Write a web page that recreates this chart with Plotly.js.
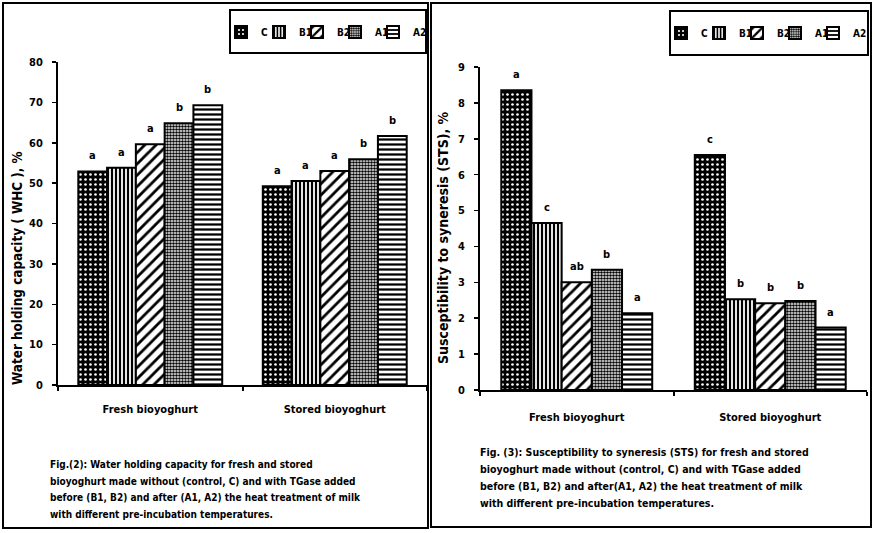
<!DOCTYPE html>
<html><head><meta charset="utf-8">
<script src="https://cdn.plot.ly/plotly-3.0.1.min.js"></script>
<style>html,body{margin:0;padding:0;background:#fff}</style>
</head><body><div id="chart" style="width:875px;height:533px"></div>
<script>
// ---------------- data ----------------
const groups = ["Fresh bioyoghurt", "Stored bioyoghurt"];
const seriesNames = ["C", "B1", "B2", "A1", "A2"];

// Fig. 2 : Water holding capacity (WHC), %
const whcC  = [52.9, 49.2];
const whcB1 = [53.8, 50.5];
const whcB2 = [59.6, 53.0];
const whcA1 = [64.8, 55.9];
const whcA2 = [69.3, 61.7];
const whcLettersC  = ["a", "a"];
const whcLettersB1 = ["a", "a"];
const whcLettersB2 = ["a", "a"];
const whcLettersA1 = ["b", "b"];
const whcLettersA2 = ["b", "b"];
const whcTicks = [0, 10, 20, 30, 40, 50, 60, 70, 80];

// Fig. 3 : Susceptibility to syneresis (STS), %
const stsC  = [8.35, 6.55];
const stsB1 = [4.65, 2.53];
const stsB2 = [3.00, 2.42];
const stsA1 = [3.35, 2.48];
const stsA2 = [2.14, 1.74];
const stsLettersC  = ["a", "c"];
const stsLettersB1 = ["c", "b"];
const stsLettersB2 = ["ab", "b"];
const stsLettersA1 = ["b", "b"];
const stsLettersA2 = ["a", "a"];
const stsTicks = [0, 1, 2, 3, 4, 5, 6, 7, 8, 9];

const whcTitle = "Water holding capacity ( WHC ), %";
const stsTitle = "Susceptibility to syneresis (STS), %";
const caption2 = [
  "Fig.(2): Water holding capacity for fresh and stored",
  "bioyoghurt made without (control, C) and with TGase added",
  "before (B1, B2) and after (A1, A2) the heat treatment of milk",
  "with different pre-incubation temperatures."
];
const caption3 = [
  "Fig. (3): Susceptibility to syneresis (STS) for fresh and stored",
  "bioyoghurt made without (control, C) and with TGase added",
  "before (B1, B2) and after(A1, A2) the heat treatment of milk",
  "with different pre-incubation temperatures."
];

// ---------------- layout helpers ----------------
const W = 875, H = 533;
const px = x => x / W;
const py = y => 1 - y / H;
const FONT = "'Liberation Sans Narrow', 'Arial Narrow', 'DejaVu Sans Condensed', sans-serif";
const bargap = 0.22;

const patterns = [
  {shape: ".", bgcolor: "#000", fgcolor: "#fff", size: 5, solidity: 0.22, fillmode: "replace"},
  {shape: "|", bgcolor: "#fff", fgcolor: "#000", size: 4, solidity: 0.55, fillmode: "replace"},
  {shape: "/", bgcolor: "#fff", fgcolor: "#000", size: 8, solidity: 0.35, fillmode: "replace"},
  {shape: ".", bgcolor: "#fff", fgcolor: "#000", size: 3, solidity: 0.6, fillmode: "replace"},
  {shape: "-", bgcolor: "#fff", fgcolor: "#000", size: 5, solidity: 0.45, fillmode: "replace"}
];

const whcSeries = [whcC, whcB1, whcB2, whcA1, whcA2];
const stsSeries = [stsC, stsB1, stsB2, stsA1, stsA2];
const whcLetters = [whcLettersC, whcLettersB1, whcLettersB2, whcLettersA1, whcLettersA2];
const stsLetters = [stsLettersC, stsLettersB1, stsLettersB2, stsLettersA1, stsLettersA2];

const traces = [];
const layout = {
  width: W, height: H, autosize: false,
  margin: {l: 0, r: 0, t: 0, b: 0},
  paper_bgcolor: "#fff", plot_bgcolor: "rgba(0,0,0,0)",
  barmode: "group", bargap: bargap, bargroupgap: 0,
  font: {family: FONT, color: "#000", size: 11, weight: "bold"},
  annotations: [], shapes: []
};

// legend item symbol centres (px) per panel, and box extents
const legendPanels = [
  {centers: [241, 279, 317, 355, 393], box: [230, 10, 426, 53], yc: 32},
  {centers: [681, 719, 757, 795, 833], box: [670, 11, 868, 55], yc: 33}
];

function axisX(domain, anchor, standoff) {
  return {
    domain: domain, anchor: anchor, type: "category",
    showline: true, linecolor: "#000", linewidth: 2,
    ticks: "outside", tickson: "boundaries", ticklen: 4, tickwidth: 2, tickcolor: "#000",
    tickfont: {family: FONT, size: 11, weight: "bold"}, ticklabelstandoff: standoff,
    showgrid: false, zeroline: false, fixedrange: true
  };
}
function axisY(domain, anchor, range, ticks) {
  return {
    domain: domain, anchor: anchor, range: range,
    tickmode: "array", tickvals: ticks, ticktext: ticks.map(String),
    showline: true, linecolor: "#000", linewidth: 2,
    ticks: "outside", ticklen: 4, tickwidth: 1.5, tickcolor: "#000",
    tickfont: {family: FONT, size: 11, weight: "bold"}, ticklabelstandoff: 7,
    showgrid: false, zeroline: false, fixedrange: true
  };
}

layout.xaxis  = axisX([px(58), px(427)], "y", 13);
layout.yaxis  = axisY([py(385), py(62)], "x", [0, 80], whcTicks);
layout.xaxis2 = axisX([px(480), px(867)], "y2", 16);
layout.yaxis2 = axisY([py(390), py(67)], "x2", [0, 9], stsTicks);

const panels = [
  {series: whcSeries, letters: whcLetters, xa: "x", ya: "y"},
  {series: stsSeries, letters: stsLetters, xa: "x2", ya: "y2"}
];
const barW = (1 - bargap) / seriesNames.length;
let legendIdx = 0;
panels.forEach((p, pi) => {
  p.series.forEach((vals, i) => {
    legendIdx++;
    const lname = legendIdx === 1 ? "legend" : "legend" + legendIdx;
    traces.push({
      type: "bar", x: groups, y: vals, name: seriesNames[i],
      xaxis: p.xa, yaxis: p.ya, legend: lname, showlegend: true,
      marker: {color: patterns[i].bgcolor, line: {color: "#000", width: 2}, pattern: patterns[i]},
      hoverinfo: "x+y+name"
    });
    const lp = legendPanels[pi];
    layout[lname] = {
      orientation: "h", x: px(lp.centers[i] - 20), xanchor: "left",
      y: py(lp.yc), yanchor: "middle",
      bgcolor: "rgba(0,0,0,0)", borderwidth: 0,
      font: {family: FONT, size: 10, weight: "bold"}
    };
    // significance letters above each bar
    vals.forEach((v, k) => {
      layout.annotations.push({
        xref: p.xa, yref: p.ya, x: k + (i - 2) * barW, y: v,
        text: p.letters[i][k], showarrow: false, yanchor: "bottom", yshift: 7,
        font: {family: FONT, size: 11, weight: "bold"}
      });
    });
  });
  const b = legendPanels[pi].box;
  layout.shapes.push({type: "rect", xref: "paper", yref: "paper",
    x0: px(b[0]), x1: px(b[2]), y0: py(b[1]), y1: py(b[3]), line: {color: "#000", width: 2}});
});

// panel frames
layout.shapes.push({type: "rect", xref: "paper", yref: "paper",
  x0: px(3), x1: px(428), y0: py(3), y1: py(528), line: {color: "#000", width: 2}});
layout.shapes.push({type: "rect", xref: "paper", yref: "paper",
  x0: px(431), x1: px(871), y0: py(3), y1: py(527), line: {color: "#000", width: 2}});

// y axis titles
layout.annotations.push({xref: "paper", yref: "paper", x: px(17), y: py(268),
  text: whcTitle, textangle: -90, showarrow: false, xanchor: "center", yanchor: "middle",
  font: {family: FONT, size: 13.4, weight: "bold"}});
layout.annotations.push({xref: "paper", yref: "paper", x: px(443), y: py(238),
  text: stsTitle, textangle: -90, showarrow: false, xanchor: "center", yanchor: "middle",
  font: {family: FONT, size: 14, weight: "bold"}});

// captions
const cap2Y = [464, 481, 497, 514];
const cap3Y = [452, 469, 486, 503];
caption2.forEach((t, j) => layout.annotations.push({xref: "paper", yref: "paper",
  x: px(48), y: py(cap2Y[j]), text: t, showarrow: false, xanchor: "left", yanchor: "middle",
  font: {family: FONT, size: 10, weight: "bold"}}));
caption3.forEach((t, j) => layout.annotations.push({xref: "paper", yref: "paper",
  x: px(478), y: py(cap3Y[j]), text: t, showarrow: false, xanchor: "left", yanchor: "middle",
  font: {family: FONT, size: 10.5, weight: "bold"}}));

Plotly.newPlot("chart", traces, layout, {displayModeBar: false, staticPlot: true});
</script></body></html>
